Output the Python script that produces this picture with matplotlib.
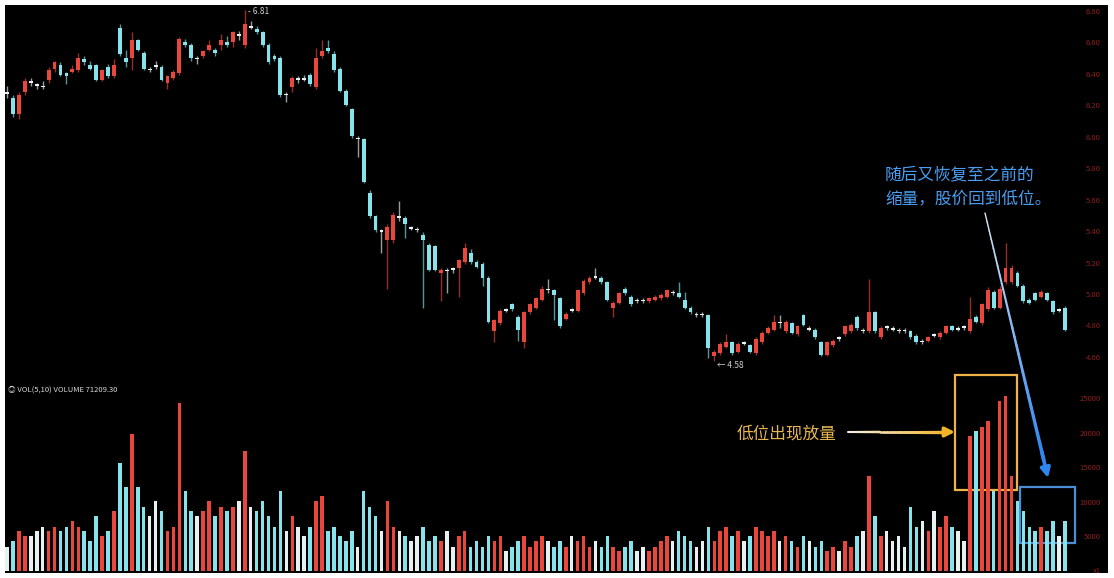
import numpy as np
import matplotlib
matplotlib.use("Agg")
import matplotlib.pyplot as plt
from matplotlib.patches import Rectangle
from matplotlib.collections import LineCollection
from matplotlib.colors import to_rgb

plt.rcParams['font.family'] = ['Noto Sans CJK SC', 'DejaVu Sans']

# daily k-line data
opens = [6.29, 6.25, 6.15, 6.29, 6.36, 6.34, 6.33, 6.37, 6.44, 6.46,
         6.41, 6.42, 6.43, 6.50, 6.46, 6.46, 6.37, 6.45, 6.39, 6.70,
         6.51, 6.51, 6.62, 6.54, 6.44, 6.45, 6.45, 6.35, 6.38, 6.41,
         6.61, 6.59, 6.51, 6.52, 6.56, 6.56, 6.59, 6.61, 6.61, 6.66,
         6.59, 6.71, 6.69, 6.67, 6.59, 6.52, 6.51, 6.27, 6.32, 6.38,
         6.37, 6.40, 6.32, 6.52, 6.57, 6.53, 6.44, 6.30, 6.18, 5.99,
         5.99, 5.65, 5.50, 5.41, 5.35, 5.35, 5.50, 5.49, 5.43, 5.42,
         5.38, 5.32, 5.31, 5.14, 5.16, 5.16, 5.17, 5.21, 5.27, 5.21,
         5.20, 5.11, 4.77, 4.82, 4.91, 4.94, 4.86, 4.70, 4.89, 4.92,
         4.97, 5.03, 5.03, 4.98, 4.85, 4.91, 4.90, 5.01, 5.08, 5.12,
         5.11, 5.08, 4.92, 4.95, 5.04, 4.99, 4.97, 4.96, 4.96, 4.97,
         4.98, 4.99, 5.02, 5.01, 4.97, 4.92, 4.88, 4.88, 4.87, 4.61,
         4.63, 4.67, 4.70, 4.64, 4.70, 4.68, 4.63, 4.70, 4.76, 4.78,
         4.83, 4.77, 4.82, 4.75, 4.87, 4.79, 4.78, 4.70, 4.62, 4.68,
         4.72, 4.75, 4.77, 4.86, 4.78, 4.77, 4.89, 4.73, 4.80, 4.79,
         4.78, 4.77, 4.77, 4.74, 4.71, 4.71, 4.74, 4.73, 4.76, 4.80,
         4.79, 4.79, 4.77, 4.86, 4.82, 4.91, 5.02, 4.92, 5.08, 5.08,
         5.14, 5.06, 4.97, 5.01, 4.99, 5.01, 4.96, 4.91, 4.92]
closes = [6.28, 6.15, 6.27, 6.36, 6.35, 6.33, 6.32, 6.43, 6.48, 6.40,
          6.39, 6.44, 6.51, 6.48, 6.44, 6.37, 6.43, 6.39, 6.46, 6.53,
          6.48, 6.62, 6.56, 6.44, 6.43, 6.46, 6.37, 6.39, 6.42, 6.63,
          6.59, 6.51, 6.50, 6.55, 6.59, 6.54, 6.62, 6.59, 6.67, 6.65,
          6.72, 6.70, 6.67, 6.59, 6.48, 6.50, 6.27, 6.28, 6.38, 6.37,
          6.38, 6.34, 6.51, 6.55, 6.55, 6.43, 6.30, 6.21, 6.01, 6.00,
          5.72, 5.50, 5.41, 5.40, 5.43, 5.51, 5.49, 5.45, 5.42, 5.41,
          5.35, 5.16, 5.16, 5.16, 5.15, 5.17, 5.22, 5.30, 5.21, 5.18,
          5.11, 4.83, 4.84, 4.90, 4.90, 4.91, 4.78, 4.89, 4.94, 4.98,
          5.04, 5.04, 5.00, 4.80, 4.88, 4.90, 5.03, 5.09, 5.11, 5.11,
          5.08, 4.97, 4.95, 5.01, 5.01, 4.94, 4.96, 4.97, 4.98, 4.99,
          5.00, 5.03, 5.01, 4.99, 4.92, 4.89, 4.87, 4.87, 4.66, 4.64,
          4.69, 4.70, 4.63, 4.69, 4.69, 4.64, 4.72, 4.76, 4.79, 4.83,
          4.82, 4.83, 4.76, 4.80, 4.81, 4.78, 4.73, 4.62, 4.70, 4.71,
          4.73, 4.80, 4.81, 4.79, 4.77, 4.89, 4.77, 4.79, 4.79, 4.78,
          4.77, 4.78, 4.73, 4.70, 4.70, 4.73, 4.75, 4.76, 4.80, 4.78,
          4.78, 4.80, 4.85, 4.83, 4.94, 5.03, 4.92, 5.04, 5.17, 5.17,
          5.06, 4.96, 4.95, 4.97, 5.02, 4.97, 4.89, 4.90, 4.78]
highs = [6.33, 6.27, 6.29, 6.38, 6.38, 6.35, 6.36, 6.45, 6.49, 6.48,
         6.42, 6.46, 6.54, 6.52, 6.49, 6.47, 6.44, 6.47, 6.50, 6.72,
         6.56, 6.67, 6.63, 6.55, 6.45, 6.49, 6.46, 6.40, 6.43, 6.64,
         6.63, 6.60, 6.52, 6.56, 6.62, 6.57, 6.66, 6.65, 6.68, 6.68,
         6.81, 6.74, 6.71, 6.68, 6.60, 6.53, 6.52, 6.29, 6.39, 6.39,
         6.40, 6.41, 6.57, 6.62, 6.62, 6.55, 6.45, 6.31, 6.19, 6.01,
         6.00, 5.67, 5.51, 5.42, 5.45, 5.53, 5.60, 5.50, 5.44, 5.43,
         5.40, 5.33, 5.32, 5.17, 5.17, 5.18, 5.23, 5.33, 5.29, 5.22,
         5.21, 5.12, 4.85, 4.91, 4.92, 4.95, 4.87, 4.90, 4.95, 4.99,
         5.06, 5.10, 5.04, 4.99, 4.89, 4.92, 5.04, 5.10, 5.12, 5.17,
         5.12, 5.09, 4.96, 5.02, 5.05, 5.00, 4.98, 4.98, 4.99, 5.00,
         5.01, 5.04, 5.03, 5.08, 5.02, 4.93, 4.89, 4.89, 4.88, 4.65,
         4.70, 4.75, 4.71, 4.70, 4.71, 4.69, 4.73, 4.77, 4.80, 4.87,
         4.87, 4.84, 4.83, 4.81, 4.88, 4.80, 4.79, 4.71, 4.71, 4.72,
         4.74, 4.81, 4.82, 4.87, 4.79, 5.10, 4.90, 4.80, 4.81, 4.80,
         4.79, 4.79, 4.78, 4.75, 4.72, 4.74, 4.76, 4.77, 4.81, 4.81,
         4.80, 4.81, 4.99, 4.87, 4.95, 5.05, 5.03, 5.06, 5.33, 5.19,
         5.15, 5.07, 4.98, 5.02, 5.03, 5.02, 4.97, 4.92, 4.93]
lows = [6.25, 6.13, 6.12, 6.27, 6.33, 6.31, 6.31, 6.35, 6.42, 6.39,
        6.34, 6.41, 6.42, 6.46, 6.43, 6.36, 6.36, 6.38, 6.38, 6.52,
        6.45, 6.43, 6.55, 6.43, 6.42, 6.44, 6.36, 6.31, 6.37, 6.40,
        6.58, 6.49, 6.47, 6.51, 6.55, 6.52, 6.56, 6.58, 6.58, 6.62,
        6.57, 6.69, 6.66, 6.58, 6.47, 6.49, 6.26, 6.23, 6.29, 6.35,
        6.36, 6.33, 6.31, 6.51, 6.54, 6.42, 6.29, 6.20, 6.00, 5.88,
        5.71, 5.49, 5.40, 5.27, 5.04, 5.33, 5.47, 5.36, 5.41, 5.40,
        4.92, 5.15, 5.15, 4.96, 5.01, 5.14, 4.99, 5.20, 5.20, 5.17,
        5.06, 4.82, 4.70, 4.81, 4.89, 4.90, 4.71, 4.66, 4.88, 4.91,
        4.96, 5.01, 4.84, 4.79, 4.84, 4.89, 4.89, 5.00, 5.07, 5.10,
        5.07, 4.96, 4.86, 4.94, 5.00, 4.93, 4.95, 4.95, 4.95, 4.96,
        4.97, 4.98, 5.00, 4.98, 4.91, 4.88, 4.86, 4.86, 4.60, 4.58,
        4.62, 4.66, 4.62, 4.63, 4.68, 4.63, 4.62, 4.69, 4.75, 4.77,
        4.79, 4.76, 4.75, 4.74, 4.80, 4.77, 4.72, 4.61, 4.61, 4.67,
        4.71, 4.74, 4.76, 4.78, 4.76, 4.76, 4.76, 4.72, 4.78, 4.77,
        4.76, 4.76, 4.72, 4.69, 4.69, 4.70, 4.73, 4.72, 4.75, 4.77,
        4.77, 4.78, 4.76, 4.82, 4.81, 4.90, 4.91, 4.91, 5.07, 5.07,
        5.05, 4.95, 4.94, 4.96, 4.98, 4.96, 4.88, 4.89, 4.77]
volumes = [3600, 4350, 5800, 5100, 5100, 5800, 6500, 5800, 6500, 5800,
           6500, 7250, 6500, 5800, 4350, 8000, 5100, 5800, 8700, 15700,
           12300, 19900, 12300, 9400, 8000, 10150, 8700, 5800, 6500, 24400,
           11600, 8700, 8000, 8700, 10150, 8000, 9400, 8700, 9400, 10150,
           17400, 9400, 8700, 10150, 8000, 6500, 11600, 5800, 8000, 6500,
           5100, 6500, 10150, 10900, 5800, 6500, 5100, 4350, 5800, 3600,
           11600, 9400, 8000, 5800, 10150, 6500, 5800, 5100, 4350, 5100,
           6500, 4350, 5100, 4350, 5800, 3600, 5100, 5800, 3600, 4350,
           3600, 5100, 4350, 5100, 2900, 3600, 4350, 5100, 3600, 4350,
           5100, 4350, 3600, 4350, 3600, 5100, 4350, 5100, 3600, 4350,
           3600, 5100, 3600, 2900, 3600, 4350, 2900, 3600, 2900, 3600,
           4350, 5100, 4350, 5800, 5100, 4350, 3600, 4350, 6500, 4350,
           5800, 6500, 5100, 5800, 4350, 5100, 6500, 5800, 5100, 5800,
           4350, 5100, 4350, 3600, 5100, 4350, 3600, 4350, 2900, 3600,
           2900, 4350, 3600, 5100, 5800, 13800, 8000, 5100, 5800, 4350,
           5100, 3600, 9400, 6500, 7250, 5800, 8700, 6500, 8000, 6500,
           5800, 4350, 19600, 20300, 21000, 21750, 11600, 24650, 25400, 13800,
           10150, 8700, 6500, 5800, 6500, 5800, 7250, 5100, 7250]

price_ticks = [6.80, 6.60, 6.40, 6.20, 6.00, 5.80, 5.60, 5.40, 5.20, 5.00, 4.80, 4.60]
vol_ticks = [25000, 20000, 15000, 10000, 5000]

o = np.array(opens); c = np.array(closes)
h = np.array(highs); l = np.array(lows)
v = np.array(volumes)
n = len(o)
x = np.arange(n)

RED = '#e9473b'
CYAN = '#86e3ec'
WHITE = '#e6f2f2'
cols = []
for oi, ci in zip(o, c):
    if abs(ci - oi) < 0.015:
        cols.append(WHITE)
    elif ci > oi:
        cols.append(RED)
    else:
        cols.append(CYAN)

W, H = 1114, 578
fig = plt.figure(figsize=(W / 100, H / 100), dpi=100, facecolor='white')

def fx(px):
    return px / W

def fy(py):
    return 1 - py / H

# black background
bg = fig.add_axes([0, 0, 1, 1])
bg.set_xlim(0, 1); bg.set_ylim(0, 1)
bg.axis('off')
bg.add_patch(Rectangle((fx(5), fy(573)), fx(1108) - fx(5), fy(5) - fy(573),
                       facecolor='black', edgecolor='none'))

step = (1065 - 7) / (n - 1)
xl = (-(7 - 5) / step, (1108 - 7) / step)

ax = fig.add_axes([fx(5), fy(378), fx(1108) - fx(5), fy(5) - fy(378)])
axv = fig.add_axes([fx(5), fy(573), fx(1108) - fx(5), fy(383) - fy(573)])
for a in (ax, axv):
    a.patch.set_alpha(0)
    a.set_xlim(*xl)
    a.set_xticks([]); a.set_yticks([])
    for s in a.spines.values():
        s.set_visible(False)

ax.set_ylim(4.472, 6.844)
axv.set_ylim(-218, 27330)

bw = 0.65
bodies_lo = np.minimum(o, c)
bodies_h = np.maximum(np.abs(c - o), 0.008)
ax.vlines(x, l, h, colors=cols, linewidth=1.0, alpha=0.65)
ax.bar(x, bodies_h, bottom=bodies_lo, width=bw, color=cols, linewidth=0)

axv.bar(x, v, width=0.6, color=cols, linewidth=0)

# right side scales
ty = ax.get_yaxis_transform()
for t in price_ticks:
    ax.text(0.9935, t, '%.2f' % t, transform=ty, ha='right', va='center',
            fontsize=5.5, color='#8c1f1f')
tv = axv.get_yaxis_transform()
for t in vol_ticks:
    axv.text(0.9935, t, str(t), transform=tv, ha='right', va='center',
             fontsize=5.5, color='#8c1f1f')
axv.text(0.9935, 100, 'x1', transform=tv, ha='right', va='center',
         fontsize=5.5, color='#8c1f1f')

# max / min markers
imax = int(np.argmax(h)); imin = int(np.argmin(l))
ax.text(imax + 0.6, h[imax] - 0.005, '- 6.81', fontsize=6, color='#cfcfcf',
        va='center', ha='left')
ax.text(imin + 0.4, l[imin] - 0.03, '\u2190 4.58', fontsize=6, color='#cfcfcf',
        va='center', ha='left')

fig.text(fx(8), fy(390), '\u25ce VOL(5,10) VOLUME 71209.30', fontsize=5.5,
         color='#d8d8d8', va='center', ha='left')

# annotations
fig.text(fx(885), fy(175), '随后又恢复至之前的', fontsize=12, color='#4a9ef2',
         va='center', ha='left')
fig.text(fx(885), fy(200), '缩量，股价回到低位。', fontsize=12, color='#4a9ef2',
         va='center', ha='left')
fig.text(fx(737), fy(434), '低位出现放量', fontsize=12, color='#e6b653',
         va='center', ha='left')

bg.add_patch(Rectangle((fx(955), fy(490)), fx(1017) - fx(955), fy(375) - fy(490),
                       fill=False, edgecolor='#f0b34a', linewidth=1.6))
bg.add_patch(Rectangle((fx(1020), fy(543)), fx(1075) - fx(1020), fy(487) - fy(543),
                       fill=False, edgecolor='#4a8fd8', linewidth=1.6))


def grad_arrow(p0, p1, c0, c1, lw0, lw1):
    # line fading from c0 to c1, arrow head at p1
    k = 30
    xs = np.linspace(fx(p0[0]), fx(p1[0]), k + 1)
    ys = np.linspace(fy(p0[1]), fy(p1[1]), k + 1)
    segs = [[(xs[i], ys[i]), (xs[i + 1], ys[i + 1])] for i in range(k - 2)]
    a0, a1 = np.array(to_rgb(c0)), np.array(to_rgb(c1))
    t = np.linspace(0, 1, k - 2)
    seg_cols = [tuple(a0 + (a1 - a0) * ti) for ti in t]
    bg.add_collection(LineCollection(segs, colors=seg_cols,
                                     linewidths=np.linspace(lw0, lw1, k - 2),
                                     capstyle='round'))
    bg.annotate('', xy=(xs[-1], ys[-1]), xytext=(xs[-4], ys[-4]),
                arrowprops=dict(arrowstyle='-|>', color=c1, lw=lw1,
                                mutation_scale=14, shrinkA=0, shrinkB=0))


grad_arrow((848, 432), (955, 432), '#f4f0e6', '#f3b42c', 1.5, 2.5)
grad_arrow((985, 213), (1048, 478), '#d6e4f7', '#2f86f0', 1.0, 2.6)

fig.savefig('out.png', dpi=100, facecolor='white')
